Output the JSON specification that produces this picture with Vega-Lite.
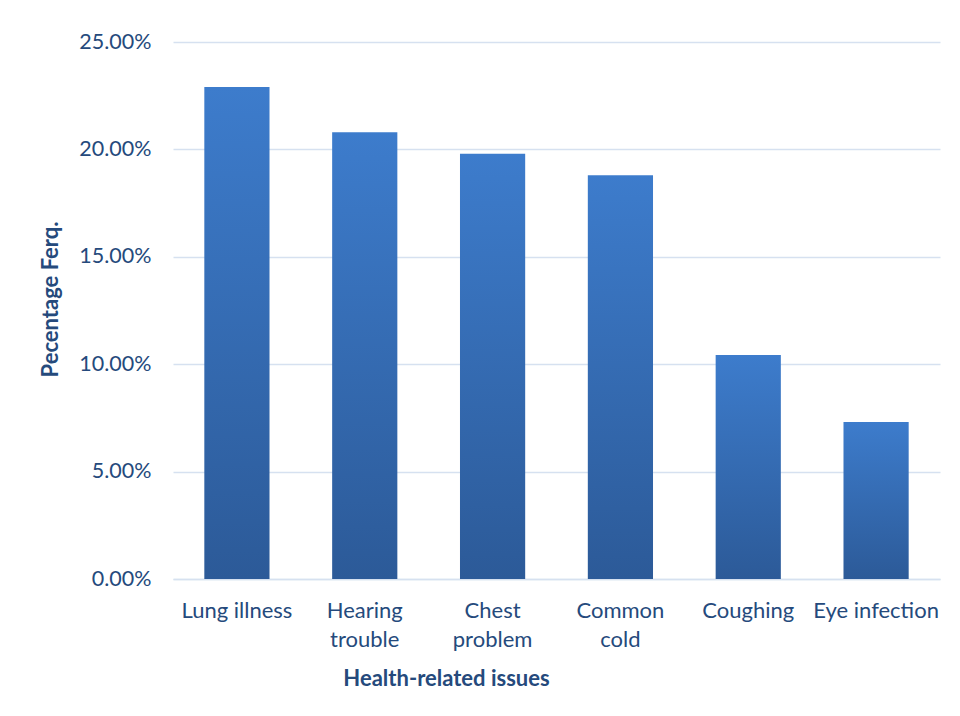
{
  "$schema": "https://vega.github.io/schema/vega-lite/v6.json",
  "width": 767,
  "height": 537,
  "autosize": {"type": "none"},
  "padding": {"left": 173, "top": 42, "right": 20, "bottom": 137},
  "background": "white",
  "data": {
    "values": [
      {"issue": "Lung illness", "pct": 0.229},
      {"issue": "Hearing trouble", "pct": 0.208},
      {"issue": "Chest problem", "pct": 0.198},
      {"issue": "Common cold", "pct": 0.188},
      {"issue": "Coughing", "pct": 0.1043},
      {"issue": "Eye infection", "pct": 0.0731}
    ]
  },
  "mark": {
    "type": "bar",
    "color": {
      "gradient": "linear",
      "x1": 0, "y1": 0, "x2": 0, "y2": 1,
      "stops": [
        {"offset": 0, "color": "#3d7ccc"},
        {"offset": 1, "color": "#2c5a98"}
      ]
    }
  },
  "encoding": {
    "x": {
      "field": "issue",
      "type": "nominal",
      "sort": null,
      "scale": {"paddingInner": 0.49, "paddingOuter": 0.245},
      "axis": {
        "title": "Health-related issues",
        "labelAngle": 0,
        "labelExpr": "datum.label == 'Lung illness' || datum.label == 'Eye infection' ? datum.label : split(datum.label, ' ')",
        "labelPadding": 21,
        "labelLineHeight": 29,
        "labelBaseline": "top",
        "labelFontSize": 22,
        "ticks": false,
        "domain": true,
        "domainColor": "#d6e1f0",
        "domainWidth": 1.5,
        "titleX": 273,
        "titleY": 99,
        "titleAlign": "center",
        "titleBaseline": "middle"
      }
    },
    "y": {
      "field": "pct",
      "type": "quantitative",
      "scale": {"domain": [0, 0.25]},
      "axis": {
        "title": "Pecentage Ferq.",
        "format": ".2%",
        "values": [0, 0.05, 0.1, 0.15, 0.2, 0.25],
        "ticks": false,
        "domain": false,
        "labelPadding": 22,
        "labelFontSize": 21.5,
        "grid": true,
        "gridColor": "#d6e1f0",
        "gridWidth": 1.5,
        "titleX": -123,
        "titleY": 257,
        "titleAngle": -90,
        "titleAlign": "center",
        "titleBaseline": "middle"
      }
    }
  },
  "config": {
    "view": {"stroke": null},
    "axis": {
      "labelFont": "Lato",
      "labelColor": "#254a7c",
      "titleFont": "Lato",
      "titleFontSize": 22,
      "titleFontWeight": "bold",
      "titleColor": "#254a7c"
    }
  }
}
